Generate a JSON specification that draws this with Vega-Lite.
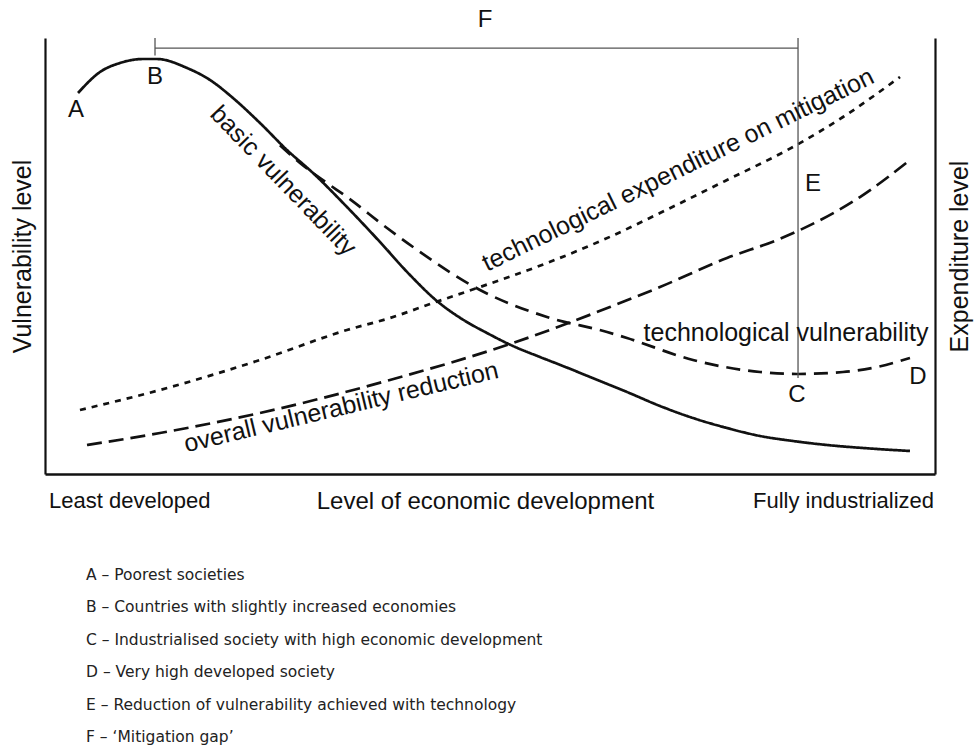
{
  "$schema": "https://vega.github.io/schema/vega-lite/v6.json",
  "width": 890,
  "height": 436,
  "autosize": {"type": "none"},
  "padding": {"left": 45, "top": 38, "right": 39, "bottom": 275},
  "background": "white",
  "config": {
    "view": {"stroke": null},
    "text": {"font": "Liberation Sans", "color": "#111"}
  },
  "resolve": {"axis": {"x": "independent", "y": "independent"}},
  "layer": [
    {
      "data": {"values": [
        {"series": "basic", "x": 3.71, "y": 87.39},
        {"series": "basic", "x": 6.18, "y": 92.2},
        {"series": "basic", "x": 8.43, "y": 94.27},
        {"series": "basic", "x": 11.01, "y": 95.18},
        {"series": "basic", "x": 12.58, "y": 95.18},
        {"series": "basic", "x": 15.96, "y": 93.12},
        {"series": "basic", "x": 18.54, "y": 90.37},
        {"series": "basic", "x": 21.12, "y": 86.24},
        {"series": "basic", "x": 24.16, "y": 80.5},
        {"series": "basic", "x": 27.19, "y": 74.31},
        {"series": "basic", "x": 30.11, "y": 69.04},
        {"series": "basic", "x": 33.93, "y": 61.24},
        {"series": "basic", "x": 37.64, "y": 53.21},
        {"series": "basic", "x": 41.01, "y": 45.64},
        {"series": "basic", "x": 44.04, "y": 39.68},
        {"series": "basic", "x": 46.85, "y": 35.55},
        {"series": "basic", "x": 49.66, "y": 32.34},
        {"series": "basic", "x": 52.58, "y": 29.36},
        {"series": "basic", "x": 55.62, "y": 26.83},
        {"series": "basic", "x": 58.2, "y": 24.77},
        {"series": "basic", "x": 61.8, "y": 21.79},
        {"series": "basic", "x": 65.39, "y": 18.81},
        {"series": "basic", "x": 69.1, "y": 15.6},
        {"series": "basic", "x": 72.81, "y": 12.84},
        {"series": "basic", "x": 76.63, "y": 10.55},
        {"series": "basic", "x": 80.34, "y": 8.72},
        {"series": "basic", "x": 84.04, "y": 7.57},
        {"series": "basic", "x": 87.87, "y": 6.65},
        {"series": "basic", "x": 92.7, "y": 5.85},
        {"series": "basic", "x": 97.19, "y": 5.28},
        {"series": "techvul", "x": 26.4, "y": 75.4},
        {"series": "techvul", "x": 28.65, "y": 71.33},
        {"series": "techvul", "x": 31.69, "y": 66.74},
        {"series": "techvul", "x": 33.93, "y": 63.53},
        {"series": "techvul", "x": 38.43, "y": 56.42},
        {"series": "techvul", "x": 41.35, "y": 52.06},
        {"series": "techvul", "x": 48.88, "y": 42.2},
        {"series": "techvul", "x": 56.4, "y": 36.01},
        {"series": "techvul", "x": 63.15, "y": 32.57},
        {"series": "techvul", "x": 65.39, "y": 31.19},
        {"series": "techvul", "x": 72.81, "y": 26.15},
        {"series": "techvul", "x": 80.34, "y": 23.39},
        {"series": "techvul", "x": 84.49, "y": 22.94},
        {"series": "techvul", "x": 89.66, "y": 23.39},
        {"series": "techvul", "x": 93.48, "y": 24.54},
        {"series": "techvul", "x": 97.19, "y": 26.61},
        {"series": "techexp", "x": 3.93, "y": 14.68},
        {"series": "techexp", "x": 12.92, "y": 19.27},
        {"series": "techexp", "x": 24.16, "y": 26.15},
        {"series": "techexp", "x": 33.93, "y": 33.03},
        {"series": "techexp", "x": 38.76, "y": 35.78},
        {"series": "techexp", "x": 43.6, "y": 39.22},
        {"series": "techexp", "x": 48.88, "y": 42.89},
        {"series": "techexp", "x": 56.4, "y": 48.39},
        {"series": "techexp", "x": 63.48, "y": 54.4},
        {"series": "techexp", "x": 69.1, "y": 59.86},
        {"series": "techexp", "x": 76.63, "y": 67.43},
        {"series": "techexp", "x": 84.04, "y": 75.0},
        {"series": "techexp", "x": 89.66, "y": 81.88},
        {"series": "techexp", "x": 96.07, "y": 91.06},
        {"series": "overall", "x": 4.72, "y": 6.65},
        {"series": "overall", "x": 12.92, "y": 9.4},
        {"series": "overall", "x": 24.16, "y": 13.99},
        {"series": "overall", "x": 38.76, "y": 21.56},
        {"series": "overall", "x": 52.58, "y": 30.05},
        {"series": "overall", "x": 63.48, "y": 38.3},
        {"series": "overall", "x": 69.1, "y": 42.89},
        {"series": "overall", "x": 76.63, "y": 49.54},
        {"series": "overall", "x": 82.25, "y": 53.67},
        {"series": "overall", "x": 84.83, "y": 55.96},
        {"series": "overall", "x": 91.57, "y": 63.53},
        {"series": "overall", "x": 97.19, "y": 72.02}
      ]},
      "mark": {"type": "line", "strokeWidth": 2.7, "color": "#111", "interpolate": "monotone"},
      "encoding": {
        "x": {
          "field": "x", "type": "quantitative",
          "scale": {"domain": [0, 100], "nice": false, "zero": false},
          "axis": {
            "orient": "bottom", "domain": true, "domainColor": "#111", "domainWidth": 2.5,
            "ticks": false, "labels": false, "grid": false,
            "title": "Level of economic development",
            "titleFont": "Liberation Sans", "titleFontSize": 24, "titleFontWeight": "normal",
            "titleColor": "#111", "titlePadding": 15, "titleX": 440
          }
        },
        "y": {
          "field": "y", "type": "quantitative",
          "scale": {"domain": [0, 100], "nice": false, "zero": false},
          "axis": {
            "orient": "left", "domain": true, "domainColor": "#111", "domainWidth": 2.2,
            "ticks": false, "labels": false, "grid": false,
            "title": "Vulnerability level",
            "titleFont": "Liberation Sans", "titleFontSize": 25, "titleFontWeight": "normal",
            "titleColor": "#111", "titlePadding": 10
          }
        },
        "strokeDash": {
          "field": "series", "type": "nominal",
          "scale": {"domain": ["basic", "techvul", "overall", "techexp"], "range": [[1, 0], [14, 8], [15, 7], [6, 6]]},
          "legend": null
        }
      }
    },
    {
      "data": {"values": [
        {"x": 12.36, "y": 97.7, "x2": 84.61, "y2": 97.7},
        {"x": 12.36, "y": 96.0, "x2": 12.36, "y2": 100},
        {"x": 84.61, "y": 22.0, "x2": 84.61, "y2": 100}
      ]},
      "mark": {"type": "rule", "color": "#555", "strokeWidth": 1.3},
      "encoding": {
        "x": {"field": "x", "type": "quantitative", "axis": null},
        "x2": {"field": "x2"},
        "y": {
          "field": "y", "type": "quantitative",
          "axis": {
            "orient": "right", "domain": true, "domainColor": "#111", "domainWidth": 2.2,
            "ticks": false, "labels": false, "grid": false,
            "title": "Expenditure level", "titleAngle": 270, "titleBaseline": "top",
            "titleFont": "Liberation Sans", "titleFontSize": 25, "titleFontWeight": "normal",
            "titleColor": "#111", "titlePadding": 12
          }
        },
        "y2": {"field": "y2"}
      }
    },
    {
      "data": {"values": [
        {"label": "F", "x": 49.44, "y": 104.13},
        {"label": "A", "x": 3.48, "y": 83.49},
        {"label": "B", "x": 12.36, "y": 91.06},
        {"label": "C", "x": 84.49, "y": 18.12},
        {"label": "D", "x": 98.09, "y": 22.25},
        {"label": "E", "x": 86.29, "y": 66.51}
      ]},
      "mark": {"type": "text", "fontSize": 24, "align": "center", "baseline": "middle"},
      "encoding": {
        "x": {"field": "x", "type": "quantitative", "axis": null},
        "y": {"field": "y", "type": "quantitative", "axis": null},
        "text": {"field": "label"}
      }
    },
    {
      "data": {"values": [{"label": "basic vulnerability", "x": 26.13, "y": 65.99}]},
      "mark": {"type": "text", "fontSize": 25, "align": "center", "baseline": "alphabetic", "angle": 46},
      "encoding": {
        "x": {"field": "x", "type": "quantitative", "axis": null},
        "y": {"field": "y", "type": "quantitative", "axis": null},
        "text": {"field": "label"}
      }
    },
    {
      "data": {"values": [{"label": "technological expenditure on mitigation", "x": 71.52, "y": 68.12}]},
      "mark": {"type": "text", "fontSize": 25, "align": "center", "baseline": "alphabetic", "angle": -26},
      "encoding": {
        "x": {"field": "x", "type": "quantitative", "axis": null},
        "y": {"field": "y", "type": "quantitative", "axis": null},
        "text": {"field": "label"}
      }
    },
    {
      "data": {"values": [{"label": "overall vulnerability reduction", "x": 33.48, "y": 13.53}]},
      "mark": {"type": "text", "fontSize": 25, "align": "center", "baseline": "alphabetic", "angle": -13.4},
      "encoding": {
        "x": {"field": "x", "type": "quantitative", "axis": null},
        "y": {"field": "y", "type": "quantitative", "axis": null},
        "text": {"field": "label"}
      }
    },
    {
      "data": {"values": [{"label": "technological vulnerability", "x": 83.26, "y": 30.5}]},
      "mark": {"type": "text", "fontSize": 25, "align": "center", "baseline": "alphabetic"},
      "encoding": {
        "x": {"field": "x", "type": "quantitative", "axis": null},
        "y": {"field": "y", "type": "quantitative", "axis": null},
        "text": {"field": "label"}
      }
    },
    {
      "data": {"values": [{"label": "Least developed", "x": 0.45, "y": -7.8}]},
      "mark": {"type": "text", "fontSize": 22, "align": "left", "baseline": "alphabetic"},
      "encoding": {
        "x": {"field": "x", "type": "quantitative", "axis": null},
        "y": {"field": "y", "type": "quantitative", "axis": null},
        "text": {"field": "label"}
      }
    },
    {
      "data": {"values": [{"label": "Fully industrialized", "x": 99.89, "y": -7.8}]},
      "mark": {"type": "text", "fontSize": 22, "align": "right", "baseline": "alphabetic"},
      "encoding": {
        "x": {"field": "x", "type": "quantitative", "axis": null},
        "y": {"field": "y", "type": "quantitative", "axis": null},
        "text": {"field": "label"}
      }
    },
    {
      "data": {"values": [
        {"label": "A – Poorest societies", "x": 4.61, "y": -23.17},
        {"label": "B – Countries with slightly increased economies", "x": 4.61, "y": -30.6},
        {"label": "C – Industrialised society with high economic development", "x": 4.61, "y": -38.03},
        {"label": "D – Very high developed society", "x": 4.61, "y": -45.46},
        {"label": "E – Reduction of vulnerability achieved with technology", "x": 4.61, "y": -52.89},
        {"label": "F – ‘Mitigation gap’", "x": 4.61, "y": -60.32}
      ]},
      "mark": {"type": "text", "font": "DejaVu Sans", "fontSize": 15.5, "align": "left", "baseline": "middle", "color": "#222"},
      "encoding": {
        "x": {"field": "x", "type": "quantitative", "axis": null},
        "y": {"field": "y", "type": "quantitative", "axis": null},
        "text": {"field": "label"}
      }
    }
  ]
}
